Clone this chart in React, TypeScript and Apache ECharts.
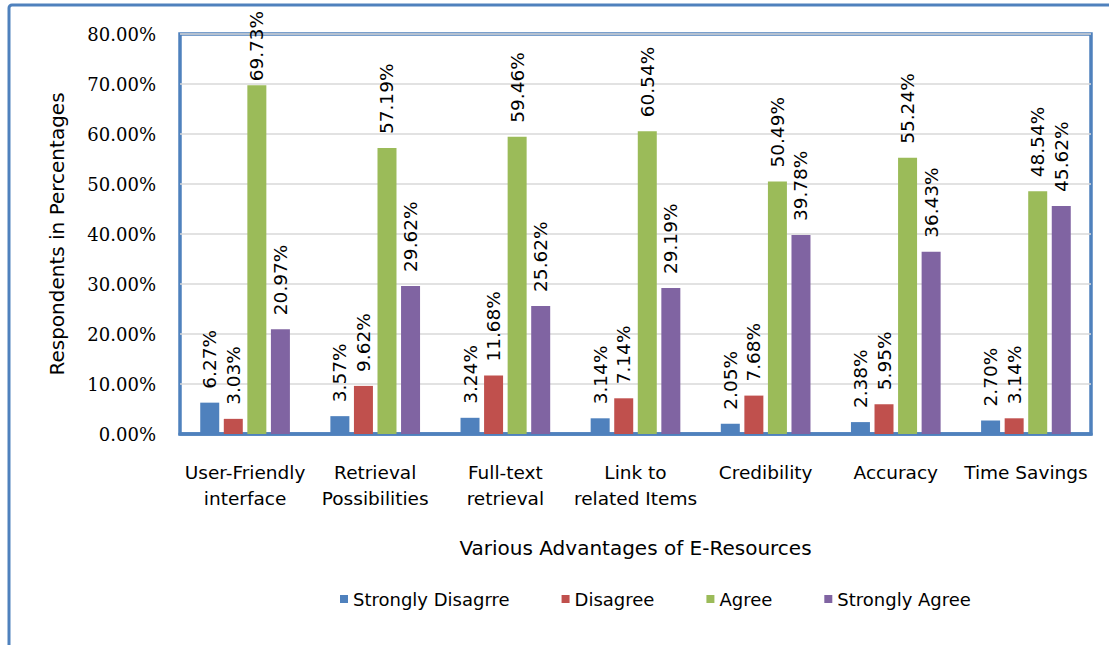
import React, { useEffect, useRef } from "react";
import * as echarts from "echarts";

const categories = [
  "User-Friendly\ninterface",
  "Retrieval\nPossibilities",
  "Full-text\nretrieval",
  "Link to\nrelated Items",
  "Credibility",
  "Accuracy",
  "Time Savings",
];
const seriesNames = ["Strongly Disagrre", "Disagree", "Agree", "Strongly Agree"];
const stronglyDisagree = [6.27, 3.57, 3.24, 3.14, 2.05, 2.38, 2.7];
const disagree = [3.03, 9.62, 11.68, 7.14, 7.68, 5.95, 3.14];
const agree = [69.73, 57.19, 59.46, 60.54, 50.49, 55.24, 48.54];
const stronglyAgree = [20.97, 29.62, 25.62, 29.19, 39.78, 36.43, 45.62];
const colors = ["#4F81BD", "#C0504D", "#9BBB59", "#8064A2"];
const yTicks = { min: 0, max: 80, interval: 10 };

const SANS = "DejaVu Sans";

export default function App() {
  const ref = useRef<HTMLDivElement>(null);
  useEffect(() => {
    document.body.style.margin = "0";
    const chart = echarts.init(ref.current!, null, { renderer: "svg" });
    const values = [stronglyDisagree, disagree, agree, stronglyAgree];
    chart.setOption({
      animation: false,
      backgroundColor: "#ffffff",
      textStyle: { fontFamily: SANS },
      graphic: [
        {
          type: "rect",
          shape: { x: 9, y: 5, width: 1200, height: 700, r: 3 },
          style: { fill: "none", stroke: "#4F81BD", lineWidth: 3 },
          z: 0,
        },
      ],
      grid: {
        left: 180,
        right: 18,
        top: 34,
        bottom: 211,
        show: true,
        borderColor: "#4F81BD",
        borderWidth: 3.5,
      },
      legend: {
        top: 585,
        left: 335,
        itemGap: 52,
        itemWidth: 8,
        itemHeight: 8,
        icon: "rect",
        data: seriesNames,
        textStyle: { fontFamily: SANS, fontSize: 18, color: "#000" },
      },
      xAxis: {
        type: "category",
        data: categories,
        name: "Various Advantages of E-Resources",
        nameLocation: "middle",
        nameGap: 104,
        nameTextStyle: { fontFamily: SANS, fontSize: 20, color: "#000" },
        axisLine: { show: true, lineStyle: { color: "#4F81BD", width: 3.5 } },
        axisTick: { show: false },
        axisLabel: {
          margin: 25,
          fontFamily: SANS,
          fontSize: 18.5,
          lineHeight: 26,
          color: "#000",
          interval: 0,
        },
      },
      yAxis: {
        type: "value",
        min: yTicks.min,
        max: yTicks.max,
        interval: yTicks.interval,
        name: "Respondents in Percentages",
        nameLocation: "middle",
        nameGap: 113,
        nameTextStyle: { fontFamily: SANS, fontSize: 20, color: "#000" },
        axisLine: { show: false },
        axisTick: { show: false },
        axisLabel: {
          margin: 24,
          fontFamily: "DejaVu Serif",
          fontSize: 18,
          color: "#000",
          formatter: (v: number) => v.toFixed(2) + "%",
        },
        splitLine: { lineStyle: { color: "#D9D9D9", width: 1.5 } },
      },
      series: seriesNames.map((name, i) => ({
        name,
        type: "bar",
        data: values[i].map((v) =>
          v > 65 ? { value: v, label: { distance: 4 } } : v
        ),
        barWidth: 19,
        barGap: "24%",
        itemStyle: { color: colors[i] },
        label: {
          show: true,
          position: "top",
          rotate: 90,
          align: "left",
          verticalAlign: "middle",
          distance: 14,
          fontFamily: SANS,
          fontSize: 18.5,
          color: "#000",
          formatter: (p: any) => Number(p.value).toFixed(2) + "%",
        },
      })),
    });
    return () => chart.dispose();
  }, []);
  return <div ref={ref} style={{ width: 1109, height: 645 }} />;
}
